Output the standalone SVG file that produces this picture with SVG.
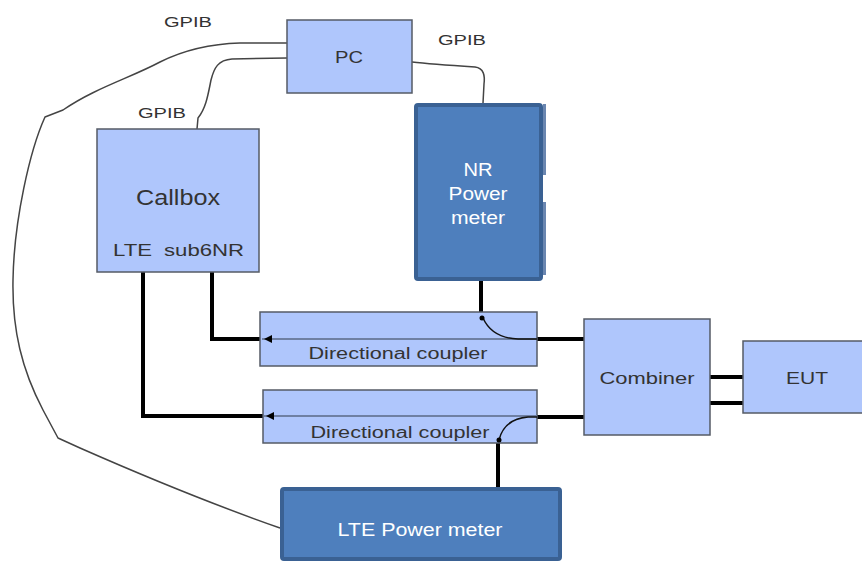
<svg xmlns="http://www.w3.org/2000/svg" width="862" height="561" viewBox="0 0 862 561">
<style>
.lb{fill:#afc6fc;stroke:#555b66;stroke-width:1.5}
.db{fill:#4e7fbd;stroke:#3a6193;stroke-width:4}
.t{font-family:"Liberation Sans",Arial,sans-serif;fill:#333;text-anchor:middle;dominant-baseline:central}
.w{fill:#fff}
.thick{fill:none;stroke:#000;stroke-width:4}
.gpib{fill:none;stroke:#444;stroke-width:1.5;stroke-linejoin:round}
.mid{stroke:#6f80a3;stroke-width:2}
.arc{fill:none;stroke:#111;stroke-width:1.5}
</style>
<rect width="862" height="561" fill="#fff"/>
<g id="connectors">
<path class="gpib" d="M287,43 L240,43 C205,44 180,52 160,62 C130,78 95,88 63,110 L45,117 C30,150 14,220 13,280 C12,330 22,370 43,410 L58,438 L80,448 C130,470 200,500 280,528"/>
<path class="gpib" d="M287,58 L232,59 C218,60 214,68 211,80 C208,95 206,108 198,118 L197,129"/>
<path class="gpib" d="M412,62 C430,64 460,66 475,67 C484,68 485,76 484,84 L483,103"/>
<path class="thick" d="M212,272 V339 H262"/>
<path class="thick" d="M143,272 V416 H263"/>
<path class="thick" d="M537,339 H584"/>
<path class="thick" d="M537,417 H584"/>
<path class="thick" d="M710,377 H743"/>
<path class="thick" d="M710,403 H743"/>
<path class="thick" d="M481,281 V318"/>
<path class="thick" d="M498,440 V488"/>
</g>
<g id="pc">
<rect class="lb" x="287" y="20" width="125" height="73"/>
<text class="t" x="349" y="57" font-size="17" textLength="28" lengthAdjust="spacingAndGlyphs">PC</text>
</g>
<g id="gpib-labels">
<text class="t" x="188" y="21" font-size="15" textLength="48" lengthAdjust="spacingAndGlyphs">GPIB</text>
<text class="t" x="462" y="39" font-size="15" textLength="48" lengthAdjust="spacingAndGlyphs">GPIB</text>
<text class="t" x="162" y="112" font-size="15" textLength="48" lengthAdjust="spacingAndGlyphs">GPIB</text>
</g>
<g id="callbox">
<rect class="lb" x="97" y="129" width="162" height="143"/>
<text class="t" x="178" y="197" font-size="22" textLength="84" lengthAdjust="spacingAndGlyphs">Callbox</text>
<text class="t" x="132.5" y="250" font-size="16" textLength="39" lengthAdjust="spacingAndGlyphs">LTE</text>
<text class="t" x="204" y="250" font-size="16" textLength="80" lengthAdjust="spacingAndGlyphs">sub6NR</text>
</g>
<g id="nr-power-meter">
<rect x="543" y="104" width="3" height="71" fill="#6a86b0"/>
<rect x="543" y="202" width="3" height="73" fill="#6a86b0"/>
<rect class="db" x="416" y="105" width="125" height="174" rx="2"/>
<text class="t w" x="478" y="170" font-size="18" textLength="29" lengthAdjust="spacingAndGlyphs">NR</text>
<text class="t w" x="478" y="194" font-size="18" textLength="59" lengthAdjust="spacingAndGlyphs">Power</text>
<text class="t w" x="478" y="218" font-size="18" textLength="54" lengthAdjust="spacingAndGlyphs">meter</text>
</g>
<g id="coupler-1">
<rect class="lb" x="260" y="312" width="277" height="54"/>
<line class="mid" x1="262" y1="339" x2="537" y2="339"/>
<polygon points="264,339 272,335 272,343" fill="#000"/>
<path class="arc" d="M483,318 Q492,338 518,339 L537,339"/>
<circle cx="482" cy="318" r="2.5" fill="#000"/>
<text class="t" x="398" y="353" font-size="16" textLength="179" lengthAdjust="spacingAndGlyphs">Directional coupler</text>
</g>
<g id="coupler-2">
<rect class="lb" x="263" y="390" width="274" height="53"/>
<line class="mid" x1="264" y1="416" x2="537" y2="416"/>
<polygon points="266,416 274,412 274,420" fill="#000"/>
<path class="arc" d="M537,417 L528,417 Q504,419 499,440"/>
<circle cx="499" cy="440" r="2.5" fill="#000"/>
<text class="t" x="400" y="432" font-size="16" textLength="179" lengthAdjust="spacingAndGlyphs">Directional coupler</text>
</g>
<g id="combiner">
<rect class="lb" x="584" y="319" width="126" height="116"/>
<text class="t" x="647" y="378" font-size="17" textLength="95" lengthAdjust="spacingAndGlyphs">Combiner</text>
</g>
<g id="eut">
<rect class="lb" x="743" y="341" width="125" height="72"/>
<text class="t" x="807" y="378" font-size="17" textLength="42" lengthAdjust="spacingAndGlyphs">EUT</text>
</g>
<g id="lte-power-meter">
<rect class="db" x="282" y="489" width="278" height="70" rx="2"/>
<text class="t w" x="420" y="530" font-size="18" textLength="165" lengthAdjust="spacingAndGlyphs">LTE Power meter</text>
</g>
</svg>
